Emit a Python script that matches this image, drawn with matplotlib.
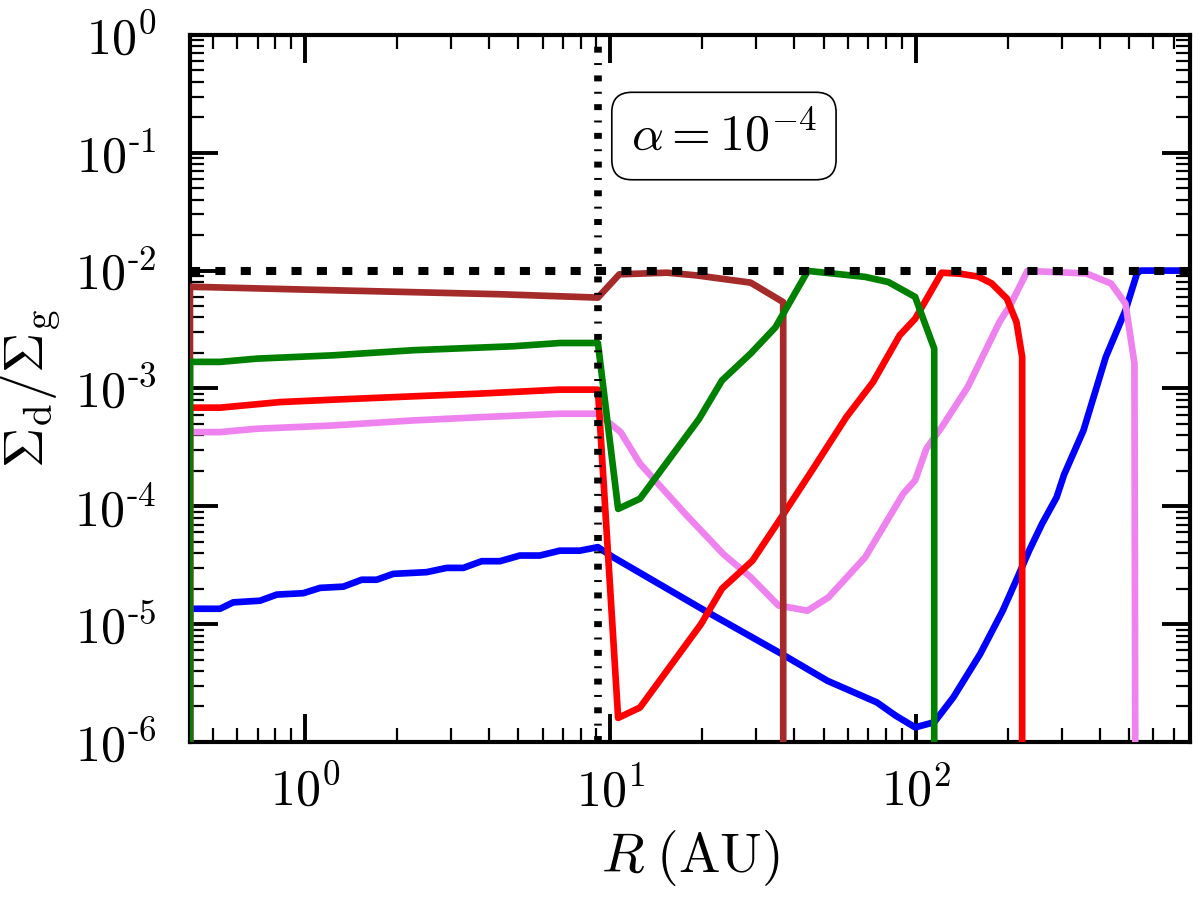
import numpy as np
import matplotlib
matplotlib.use('Agg')
import matplotlib.pyplot as plt
from matplotlib.ticker import LogLocator, FuncFormatter, NullFormatter

plt.rcParams['mathtext.fontset'] = 'cm'
plt.rcParams['font.family'] = 'serif'

# dust-to-gas ratio profiles (R in AU)
r_blue = [0.42, 0.42, 0.527, 0.582, 0.712, 0.808, 0.987, 1.12, 1.335, 1.533, 1.716, 1.945,
          2.5, 2.91, 3.30, 3.79, 4.35, 5.05, 5.87, 6.83, 7.94, 9.1, 10.2, 20.4, 36.3, 51.4,
          74.5, 86, 99.5, 114.9, 132.7, 162.5, 192.6, 215.4, 235, 259, 289, 306, 354, 419,
          486, 530, 545, 790]
d_blue = [1e-8, 1.35e-5, 1.35e-5, 1.53e-5, 1.58e-5, 1.78e-5, 1.83e-5, 2.03e-5, 2.08e-5, 2.38e-5,
          2.38e-5, 2.67e-5, 2.76e-5, 3.0e-5, 3.0e-5, 3.42e-5, 3.42e-5, 3.82e-5, 3.82e-5, 4.2e-5,
          4.2e-5, 4.5e-5, 3.7e-5, 1.3e-5, 5.6e-6, 3.3e-6, 2.17e-6, 1.67e-6, 1.33e-6, 1.47e-6,
          2.39e-6, 5.58e-6, 1.3e-5, 2.5e-5, 4.2e-5, 7.1e-5, 1.19e-4, 1.86e-4, 4.4e-4, 1.85e-3,
          4.6e-3, 9.45e-3, 1e-2, 1e-2]

r_violet = [0.42, 0.42, 0.527, 0.695, 1.235, 2.257, 3.74, 6.84, 9.1, 10.8, 12.5, 17.6, 23.5,
            28.8, 35.5, 44.2, 51.8, 68.3, 91, 99.5, 108.3, 121.6, 148, 188, 204, 232, 362,
            436, 486, 520, 525]
d_violet = [1e-8, 4.26e-4, 4.26e-4, 4.55e-4, 4.85e-4, 5.35e-4, 5.7e-4, 6.1e-4, 6.1e-4, 4.26e-4,
            2.3e-4, 8.6e-5, 3.9e-5, 2.5e-5, 1.44e-5, 1.30e-5, 1.69e-5, 3.7e-5, 1.28e-4, 1.66e-4,
            3.08e-4, 4.7e-4, 1.03e-3, 3.67e-3, 5.1e-3, 9.94e-3, 9.45e-3, 7.77e-3, 5.25e-3,
            1.63e-3, 1e-8]

r_red = [0.42, 0.42, 0.527, 0.828, 1.235, 2.257, 3.74, 6.84, 9.1, 10.6, 12.5, 19.8, 23.2,
         29.2, 36.3, 45.7, 59.2, 72.4, 88.6, 99.5, 121.6, 140, 160, 177, 198.6, 213.6, 223, 223]
d_red = [1e-8, 6.87e-4, 6.87e-4, 7.66e-4, 8.03e-4, 8.57e-4, 9.04e-4, 9.77e-4, 9.77e-4, 1.6e-6,
         1.96e-6, 1.0e-5, 2.0e-5, 3.46e-5, 8.07e-5, 2.01e-4, 5.7e-4, 1.13e-3, 2.83e-3, 3.9e-3,
         9.6e-3, 9.4e-3, 8.9e-3, 7.8e-3, 5.8e-3, 3.66e-3, 1.85e-3, 1e-8]

r_brown = [0.42, 0.42, 1.0, 4.35, 9.1, 10.7, 15.3, 19.2, 28.8, 36.8, 36.8]
d_brown = [1e-8, 7.3e-3, 6.9e-3, 6.3e-3, 5.9e-3, 9.3e-3, 9.6e-3, 9.1e-3, 7.9e-3, 5.4e-3, 1e-8]

r_green = [0.42, 0.42, 0.527, 0.695, 1.235, 2.257, 4.8, 6.84, 9.1, 10.6, 12.5, 19.5, 23.2,
           28.8, 34.7, 44.3, 68.3, 81.3, 99.5, 114.9, 114.9]
d_green = [1e-8, 1.68e-3, 1.68e-3, 1.79e-3, 1.91e-3, 2.11e-3, 2.28e-3, 2.43e-3, 2.43e-3, 9.5e-5,
           1.16e-4, 5.5e-4, 1.17e-3, 1.98e-3, 3.3e-3, 9.94e-3, 8.84e-3, 8.0e-3, 5.98e-3,
           2.18e-3, 1e-8]

r_snow = 9.1        # vertical dotted line
d_initial = 1e-2    # horizontal dashed line


def fmt_log(v, pos):
    e = int(round(np.log10(v)))
    if e < 0:
        return r'$10^{\text{-}%d}$' % (-e)
    return r'$10^{%d}$' % e


fig = plt.figure(figsize=(12, 9), dpi=100)
ax = fig.add_axes([0.1583, 0.1756, 0.8333, 0.7856])

lw = 4.8
ax.plot(r_blue, d_blue, color='blue', lw=lw, zorder=2)
ax.plot(r_violet, d_violet, color='violet', lw=lw, zorder=3)
ax.plot(r_red, d_red, color='red', lw=lw, zorder=4)
ax.plot(r_brown, d_brown, color='brown', lw=lw, zorder=5)
ax.plot(r_green, d_green, color='green', lw=lw, zorder=6)

ax.axhline(d_initial, color='black', lw=5.8, dashes=(1.25, 1.9), zorder=8)
ax.axvline(r_snow, color='black', lw=5.5, dashes=(0.78, 1.36, 0.26, 1.36), zorder=8)

ax.set_xscale('log')
ax.set_yscale('log')
ax.set_xlim(0.42, 790)
ax.set_ylim(1e-6, 1)

ax.xaxis.set_major_locator(LogLocator(base=10, numticks=20))
ax.yaxis.set_major_locator(LogLocator(base=10, numticks=20))
ax.xaxis.set_minor_locator(LogLocator(base=10, subs=np.arange(2, 10), numticks=20))
ax.yaxis.set_minor_locator(LogLocator(base=10, subs=np.arange(2, 10), numticks=20))
ax.xaxis.set_major_formatter(FuncFormatter(fmt_log))
ax.yaxis.set_major_formatter(FuncFormatter(fmt_log))
ax.xaxis.set_minor_formatter(NullFormatter())
ax.yaxis.set_minor_formatter(NullFormatter())

ax.tick_params(which='major', direction='in', length=20, width=2.8, top=True, right=True,
               labelsize=36)
ax.tick_params(which='minor', direction='in', length=10, width=1.6, top=True, right=True)
ax.tick_params(axis='x', which='major', pad=18)
ax.tick_params(axis='y', which='major', pad=24)
for s in ax.spines.values():
    s.set_linewidth(3)

ax.set_xlabel(r'$R\;(\mathrm{AU})$', fontsize=40, labelpad=8)
ax.set_ylabel(r'$\Sigma_{\rm d}/\Sigma_{\rm g}$', fontsize=40, labelpad=8)

ax.text(0.534, 0.857, r'$\alpha=10^{-4}$', transform=ax.transAxes, fontsize=36,
        ha='center', va='center', zorder=10,
        bbox=dict(boxstyle='round,pad=0.38,rounding_size=0.4', fc='white', ec='black', lw=1.2))

fig.savefig('out.png', dpi=100)
